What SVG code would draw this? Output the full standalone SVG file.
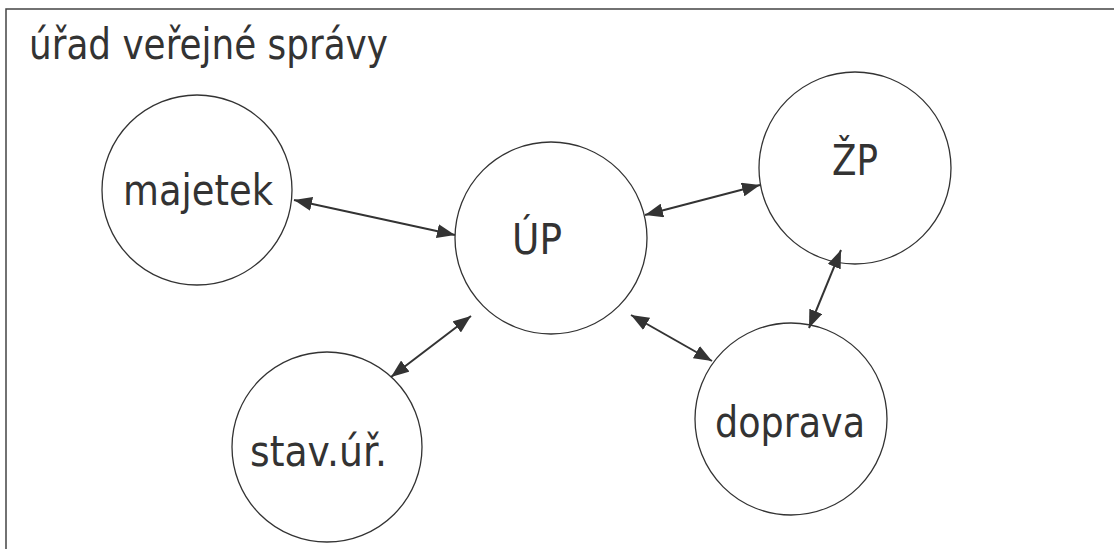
<svg xmlns="http://www.w3.org/2000/svg" width="1114" height="549" viewBox="0 0 1114 549">
<style>
text{font-family:"DejaVu Sans",Verdana,sans-serif;font-size:42px;fill:#333}
.n circle{fill:#fff;stroke:#333;stroke-width:1.3}
.c line{stroke:#333;stroke-width:2;marker-start:url(#ah);marker-end:url(#ah)}
</style>
<defs>
<marker id="ah" viewBox="0 0 18 14" refX="18" refY="7" markerWidth="18" markerHeight="14" markerUnits="userSpaceOnUse" orient="auto-start-reverse">
<path d="M0,0 L18,7 L0,14 Z" fill="#333"/>
</marker>
</defs>
<rect width="1114" height="549" fill="#fff"/>
<path d="M6,549 V9 H1114" fill="none" stroke="#444" stroke-width="1.5"/>
<text x="29" y="59" font-size="40" textLength="359" lengthAdjust="spacingAndGlyphs">úřad veřejné správy</text>
<g class="n" id="majetek"><circle cx="197" cy="190" r="95"/><text x="123" y="205" textLength="150" lengthAdjust="spacingAndGlyphs">majetek</text></g>
<g class="n" id="UP"><circle cx="551" cy="238" r="96"/><text x="512" y="254" textLength="50" lengthAdjust="spacingAndGlyphs">ÚP</text></g>
<g class="n" id="ZP"><circle cx="855" cy="168" r="96"/><text x="832" y="175" textLength="46" lengthAdjust="spacingAndGlyphs">ŽP</text></g>
<g class="n" id="stav"><circle cx="327" cy="447" r="95"/><text x="250" y="466" textLength="137" lengthAdjust="spacingAndGlyphs">stav.úř.</text></g>
<g class="n" id="doprava"><circle cx="791" cy="419" r="96"/><text x="715" y="437" textLength="150" lengthAdjust="spacingAndGlyphs">doprava</text></g>
<g class="c" id="connectors">
<line x1="294" y1="200" x2="455" y2="235"/>
<line x1="645" y1="215" x2="760" y2="185"/>
<line x1="471" y1="316" x2="391" y2="377"/>
<line x1="631" y1="315" x2="712" y2="361"/>
<line x1="841" y1="250" x2="809" y2="328"/>
</g>
</svg>
